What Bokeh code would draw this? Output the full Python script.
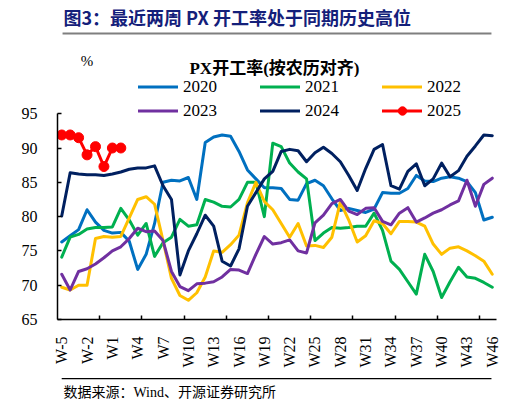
import math
from bokeh.plotting import figure
from bokeh.layouts import column
from bokeh.models import (Range1d, FixedTicker, Label, Legend, LegendItem,
                          BoxAnnotation, ColumnDataSource)
from bokeh.embed import file_html
from bokeh.resources import INLINE

weeks = ["W-5", "W-4", "W-3", "W-2", "W-1", "W0"] + ["W%d" % k for k in range(1, 47)]

y2020 = [76.3, 77.2, 78.1, 81.0, 79.2, 78.0, 77.6, 77.7, 76.4, 72.3, 74.5, 79.0, 85.0,
         85.3, 85.2, 85.7, 82.5, 90.8, 91.6, 91.9, 91.7, 89.5, 86.8, 85.5, 84.2, 84.2,
         84.1, 82.5, 82.4, 84.8, 85.3, 84.5, 82.6, 80.9, 81.2, 80.9, 80.6, 81.1, 83.5,
         83.4, 83.4, 84.1, 86.0, 85.2, 85.1, 85.6, 85.8, 85.6, 85.1, 83.5, 79.5, 79.9]
y2021 = [74.1, 77.0, 77.4, 78.2, 78.4, 78.4, 78.5, 81.2, 79.5, 77.3, 79.0, 74.2, 76.2,
         77.0, 79.6, 78.6, 78.8, 82.5, 82.1, 81.5, 81.4, 82.5, 85.0, 85.0, 80.0, 90.7,
         90.2, 87.8, 86.5, 85.5, 76.5, 77.6, 78.4, 78.3, 78.4, 78.6, 78.6, 80.5, 78.0,
         73.5, 72.3, 70.5, 68.7, 74.5, 72.0, 68.2, 70.5, 72.6, 71.2, 71.0, 70.4, 69.7]
y2022 = [69.7, 69.3, 70.0, 70.0, 76.8, 77.1, 77.0, 77.1, 79.8, 82.5, 82.9, 81.8, 76.5,
         71.0, 68.5, 67.8, 68.9, 71.2, 75.0, 74.8, 75.9, 77.3, 82.0, 85.0, 82.2, 81.0,
         79.0, 77.0, 79.0, 75.7, 75.8, 75.5, 77.0, 82.1, 79.5, 76.3, 77.2, 79.4, 79.0,
         77.5, 79.3, 79.3, 79.2, 78.6, 76.0, 74.5, 75.4, 75.6, 75.0, 74.3, 73.5, 71.6]
y2023 = [71.6, 69.3, 72.0, 72.4, 73.1, 74.0, 75.0, 75.6, 76.8, 78.3, 77.8, 77.9, 76.5,
         72.0, 69.8, 69.2, 70.2, 70.3, 70.5, 71.2, 72.3, 72.2, 71.7, 74.5, 77.1, 76.0,
         76.2, 76.6, 75.0, 74.7, 79.1, 80.2, 81.9, 82.5, 80.8, 80.3, 81.2, 81.3, 79.3,
         78.8, 80.5, 81.3, 79.2, 79.8, 80.5, 81.0, 81.7, 82.3, 85.3, 81.5, 84.7, 85.6]
y2024 = [80.1, 86.4, 86.2, 86.1, 86.1, 86.0, 86.2, 86.5, 86.9, 87.1, 87.1, 87.4, 84.5,
         82.5, 71.5, 75.0, 77.5, 80.2, 78.6, 73.5, 72.8, 75.3, 81.5, 83.5, 85.5, 86.6,
         89.5, 89.8, 89.6, 88.0, 89.3, 90.1, 89.2, 88.0, 86.0, 83.8, 87.0, 89.8, 90.5,
         84.5, 84.0, 86.6, 87.7, 84.5, 85.5, 87.8, 85.8, 86.7, 88.8, 90.3, 91.9, 91.8]
y2025 = [91.9, 91.9, 91.5, 89.0, 90.2, 87.3, 90.0, 90.0]

series_names = ["2020", "2021", "2022", "2023", "2024", "2025"]
series_colors = ["#0070C0", "#00B050", "#FFC000", "#7030A0", "#002060", "#FF0000"]
y_ticks = [65, 70, 75, 80, 85, 90, 95]

SERIF = "Liberation Serif"
CJK = "Noto Sans CJK SC"
MIX = "Liberation Serif, Noto Sans CJK SC"

W = 522
TOP_H, MAIN_H, FOOT_H = 77, 293, 38


def blank_fig(h):
    f = figure(width=W, height=h, output_backend="svg", toolbar_location=None,
               x_range=Range1d(0, W), y_range=Range1d(h, 0),
               x_axis_type=None, y_axis_type=None,
               min_border_left=0, min_border_right=0, min_border_top=0,
               min_border_bottom=0)
    f.outline_line_color = None
    f.xgrid.visible = False
    f.ygrid.visible = False
    return f


# ---------- top block: title, underline, "%", chart title ----------
top = blank_fig(TOP_H)
top.add_layout(Label(x=7, y=16, text="图3：最近两周 PX 开工率处于同期历史高位",
                     text_font=CJK, text_font_style="bold", text_font_size="18px",
                     text_color="#14207a", text_baseline="middle", text_align="left"))
top.add_layout(BoxAnnotation(left=6, right=516, top=32, bottom=34,
                             fill_color="#7f7f7f", fill_alpha=1, line_color=None))
top.add_layout(Label(x=35, y=60, text="%", text_font=SERIF, text_font_size="15px",
                     text_color="black", text_baseline="middle", text_align="center"))
top.add_layout(Label(x=258, y=67.8, text="PX开工率(按农历对齐)", text_font=MIX,
                     text_font_style="bold", text_font_size="17px",
                     text_color="black", text_baseline="middle", text_align="center"))

# ---------- main chart ----------
n = len(weeks)
frame_h = MAIN_H - 49
y_top = 65 + 30 * frame_h / 207.5   # frame extends above the axis top (95)
p = figure(width=W, height=MAIN_H, output_backend="svg", toolbar_location=None,
           x_range=Range1d(-0.5, n - 0.5), y_range=Range1d(65, y_top),
           min_border_left=57, min_border_right=26, min_border_top=0,
           min_border_bottom=49)
p.outline_line_color = None
p.xgrid.visible = False
p.ygrid.visible = False

renderers = {}
for name, col, ys in zip(series_names, series_colors,
                         [y2020, y2021, y2022, y2023, y2024, y2025]):
    src = ColumnDataSource(dict(x=list(range(len(ys))), y=ys))
    r = p.line("x", "y", source=src, line_color=col, line_width=3,
               line_join="round", line_cap="round")
    rs = [r]
    if name == "2025":
        s = p.scatter("x", "y", source=src, size=10, marker="circle",
                      fill_color=col, line_color=col)
        rs.append(s)
    renderers[name] = rs

xa = p.xaxis[0]
label_idx = list(range(0, n, 3))
xa.ticker = FixedTicker(ticks=label_idx, minor_ticks=[k - 0.5 for k in range(5, n, 5)])
xa.major_label_overrides = {i: weeks[i] for i in label_idx}
xa.major_tick_line_color = None
xa.minor_tick_line_color = "black"
xa.minor_tick_line_width = 1.5
xa.minor_tick_in = 4
xa.minor_tick_out = 0
xa.major_label_orientation = math.pi / 2
xa.major_label_standoff = 11
xa.major_label_text_font = SERIF
xa.major_label_text_font_size = "16px"
xa.major_label_text_color = "black"
xa.axis_line_width = 1.5
xa.axis_line_color = "black"

ya = p.yaxis[0]
ya.ticker = FixedTicker(ticks=y_ticks, minor_ticks=[])
ya.bounds = (65, 95)
ya.major_tick_in = 4
ya.major_tick_out = 0
ya.major_tick_line_width = 1.5
ya.major_label_standoff = 20
ya.major_label_text_font = SERIF
ya.major_label_text_font_size = "16px"
ya.major_label_text_color = "black"
ya.axis_line_width = 1.5
ya.axis_line_color = "black"

# legend fills column by column -> order so rows read 2020 2021 2022 / 2023 2024 2025
order = ["2020", "2023", "2021", "2024", "2022", "2025"]
legend = Legend(items=[LegendItem(label=nm, renderers=renderers[nm]) for nm in order],
                ncols=3, location=(81, 198), padding=0, margin=0, spacing=3,
                glyph_width=40, glyph_height=21, label_height=21, label_width=74,
                label_standoff=5, border_line_color=None, background_fill_alpha=0,
                label_text_font=SERIF, label_text_font_size="17px",
                label_text_color="black")
p.add_layout(legend, "center")

# ---------- footer ----------
foot = blank_fig(FOOT_H)
foot.add_layout(BoxAnnotation(left=5, right=516, top=7.5, bottom=8.7,
                              fill_color="black", fill_alpha=1, line_color=None))
foot.add_layout(Label(x=7, y=22, text="数据来源：Wind、开源证券研究所", text_font=MIX,
                      text_font_size="14px", text_color="black",
                      text_baseline="middle", text_align="left"))

layout = column(top, p, foot, spacing=0)
open("out.html", "w").write(file_html(layout, INLINE))
